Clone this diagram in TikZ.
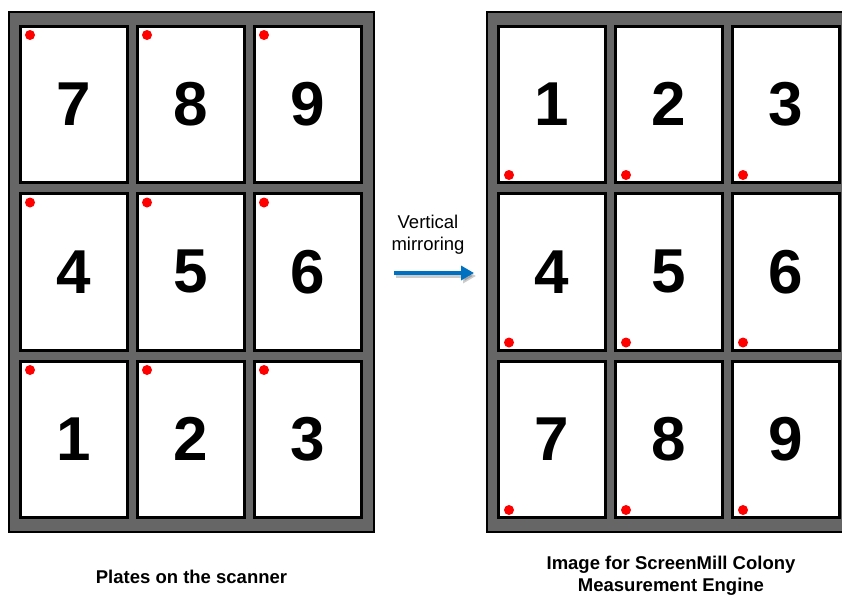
\documentclass[tikz,border=0pt]{standalone}
\usepackage{fontspec}
\setmainfont{Liberation Sans}
\usetikzlibrary{arrows.meta,calc}
\definecolor{framegray}{RGB}{102,102,102}
\definecolor{arrowblue}{RGB}{0,112,192}
\definecolor{dotred}{RGB}{255,0,0}
\begin{document}
\begin{tikzpicture}[x=1pt,y=-1pt,
  plate/.style={draw=black, line width=3pt, fill=white, minimum width=106.5pt,
    minimum height=156.5pt, inner sep=0pt, outer sep=0pt,
    font=\bfseries\fontsize{62}{62}\selectfont},
  trayframe/.style={draw=black, line width=2pt, fill=framegray},
  dot/.style={fill=dotred},
  label/.style={font=\fontsize{18.5}{22}\selectfont, align=center, inner sep=0pt}]
\useasboundingbox (0,0) rectangle (842,595);
\clip (0,0) rectangle (842,595);
% trays
\draw[trayframe] (9,12) rectangle (374,532);
\draw[trayframe] (487,12) rectangle (853,532);
% plates
\foreach \r in {0,1,2}{
  \foreach \c in {0,1,2}{
    \pgfmathsetmacro{\cy}{104.25+167.5*\r}
    \pgfmathsetmacro{\lx}{73.75+117*\c}
    \pgfmathsetmacro{\rx}{551.75+117*\c}
    \pgfmathtruncatemacro{\ln}{(2-\r)*3+\c+1}
    \pgfmathtruncatemacro{\rn}{\r*3+\c+1}
    \node[plate] (L\ln) at (\lx,\cy) {\ln};
    \fill[dot] ($(L\ln.north west)+(9.5,9)$) circle (5);
    \node[plate] (R\rn) at (\rx,\cy) {\rn};
    \fill[dot] ($(R\rn.south west)+(10.5,-7.5)$) circle (5);
  }
}
% arrow
\node[label] (vm) at (428,235) {Vertical\\mirroring};
\coordinate (as) at (394,273);
\coordinate (ae) at (474,273);
\draw[black, opacity=0.2, line width=4pt, -{Triangle[length=13pt,width=14pt]}]
  ($(as)+(2,3)$) -- ($(ae)+(2,3)$);
\draw[arrowblue, line width=4pt, -{Triangle[length=13pt,width=14pt]}] (as) -- (ae);
% captions
\node[label, font=\bfseries\fontsize{18.5}{22}\selectfont] (lt) at (191.5,577) {Plates on the scanner};
\node[label, font=\bfseries\fontsize{18.5}{22}\selectfont] (rt) at (671,576) {Image for ScreenMill Colony\\Measurement Engine};
\end{tikzpicture}
\end{document}
